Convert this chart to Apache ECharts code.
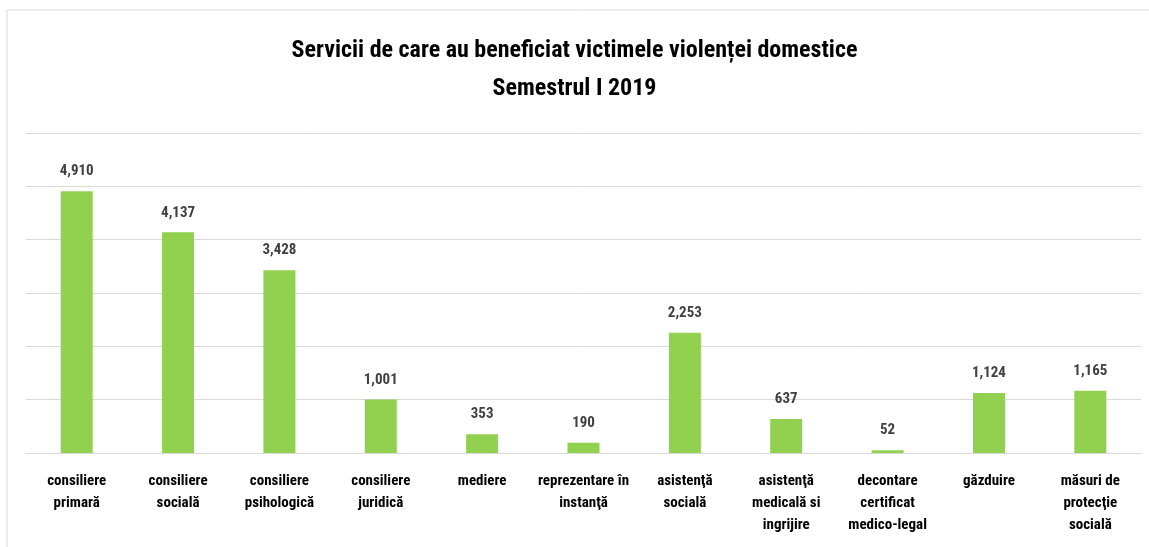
<!DOCTYPE html>
<html><head><meta charset="utf-8">
<script src="https://cdn.jsdelivr.net/npm/echarts@6/dist/echarts.min.js"></script>
<style>html,body{margin:0;padding:0;background:#fff}#c{width:1149px;height:547px}</style>
</head><body><div id="c"></div>
<script>
const categories = ["consiliere\nprimară","consiliere\nsocială","consiliere\npsihologică","consiliere\njuridică","mediere","reprezentare în\ninstanţă","asistenţă\nsocială","asistenţă\nmedicală si\ningrijire","decontare\ncertificat\nmedico-legal","găzduire","măsuri de\nprotecţie\nsocială"];
const values = [4910,4137,3428,1001,353,190,2253,637,52,1124,1165];
const titleLines = ["Servicii de care au beneficiat victimele violenței domestice","Semestrul I 2019"];
const FONT = "'Liberation Sans Narrow','Arial Narrow','Roboto Condensed',sans-serif";
const tStyle = {fontFamily:FONT,fontSize:24,fontWeight:'bold',color:'#000'};
const chart = echarts.init(document.getElementById('c'));
chart.setOption({
  animation:false,
  graphic:[{type:'rect',shape:{x:7,y:10,width:1170,height:560},style:{fill:'none',stroke:'#d9d9d9',lineWidth:1},silent:true}],
  title:[
    {text:titleLines[0],left:'center',top:34,textStyle:tStyle},
    {text:titleLines[1],left:'center',top:72,textStyle:tStyle}
  ],
  grid:{left:26,right:8,top:133,bottom:94,containLabel:false},
  xAxis:{type:'category',data:categories,axisTick:{show:false},
    axisLine:{lineStyle:{color:'#d9d9d9',width:1}},
    axisLabel:{interval:0,margin:17,color:'#000',fontFamily:FONT,fontWeight:'bold',fontSize:15,lineHeight:22}},
  yAxis:{type:'value',min:0,max:6000,interval:1000,axisLabel:{show:false},axisLine:{show:false},axisTick:{show:false},
    splitLine:{lineStyle:{color:'#d9d9d9',width:1}}},
  series:[{type:'bar',data:values,barWidth:32,itemStyle:{color:'#92d050'},
    label:{show:true,position:'top',distance:12,color:'#404040',fontFamily:FONT,fontWeight:'bold',fontSize:15,
      formatter:p=>p.value.toLocaleString('en-US')}}]
});
</script></body></html>
